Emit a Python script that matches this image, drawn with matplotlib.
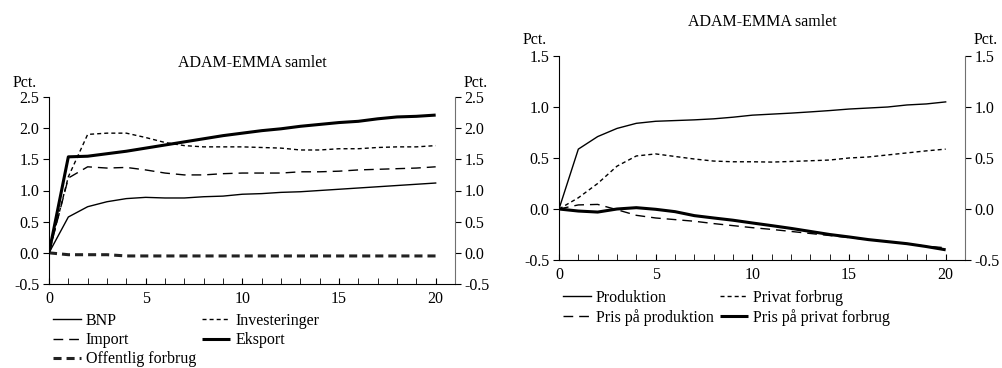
import numpy as np
import matplotlib
matplotlib.use("Agg")
import matplotlib.pyplot as plt
from matplotlib.ticker import MultipleLocator, FormatStrFormatter

plt.rcParams['font.family'] = ['Liberation Serif', 'DejaVu Serif']
plt.rcParams['font.size'] = 11.5
plt.rcParams['axes.unicode_minus'] = False
plt.rcParams['lines.scale_dashes'] = False

years = np.arange(0, 21)

# left panel
bnp = [0.0, 0.575, 0.74, 0.82, 0.87, 0.89, 0.88, 0.88, 0.90, 0.91, 0.94,
       0.95, 0.97, 0.98, 1.00, 1.02, 1.04, 1.06, 1.08, 1.10, 1.12]
investeringer = [0.0, 1.22, 1.90, 1.92, 1.92, 1.85, 1.77, 1.72, 1.70, 1.70, 1.70,
                 1.69, 1.68, 1.65, 1.65, 1.67, 1.67, 1.69, 1.70, 1.70, 1.72]
importen = [0.0, 1.20, 1.38, 1.36, 1.37, 1.33, 1.28, 1.25, 1.25, 1.27, 1.28,
            1.28, 1.28, 1.30, 1.30, 1.31, 1.33, 1.34, 1.35, 1.36, 1.38]
eksport = [0.0, 1.54, 1.55, 1.59, 1.63, 1.68, 1.73, 1.78, 1.83, 1.88, 1.92,
           1.96, 1.99, 2.03, 2.06, 2.09, 2.11, 2.15, 2.18, 2.19, 2.21]
offentlig = [0.0, -0.03, -0.03, -0.03, -0.05, -0.05, -0.05, -0.05, -0.05, -0.05, -0.05,
             -0.05, -0.05, -0.05, -0.05, -0.05, -0.05, -0.05, -0.05, -0.05, -0.05]

# right panel
produktion = [0.0, 0.587, 0.71, 0.79, 0.84, 0.86, 0.867, 0.874, 0.884, 0.90, 0.92,
              0.93, 0.94, 0.952, 0.965, 0.98, 0.99, 1.00, 1.02, 1.03, 1.05]
privat = [0.0, 0.11, 0.25, 0.42, 0.52, 0.54, 0.515, 0.49, 0.47, 0.463, 0.463,
          0.46, 0.466, 0.473, 0.48, 0.50, 0.51, 0.53, 0.55, 0.57, 0.587]
pris_prod = [0.0, 0.04, 0.045, -0.007, -0.062, -0.088, -0.104, -0.12, -0.143, -0.163, -0.183,
             -0.20, -0.22, -0.24, -0.26, -0.28, -0.30, -0.32, -0.34, -0.365, -0.38]
pris_privat = [0.0, -0.02, -0.03, 0.0, 0.013, -0.003, -0.026, -0.065, -0.088, -0.11, -0.137,
               -0.163, -0.19, -0.22, -0.25, -0.274, -0.30, -0.32, -0.34, -0.368, -0.40]

thin = dict(color='black', lw=1.0)
short = dict(color='black', lw=1.0, dashes=(2.9, 2.2))
longd = dict(color='black', lw=1.0, dashes=(7.0, 4.3))
thick = dict(color='black', lw=2.2, solid_capstyle='butt')
thickd = dict(color='#222222', lw=2.2, dashes=(5.8, 3.6))

fig = plt.figure(figsize=(10.02, 3.68), dpi=100)
ax1 = fig.add_axes([49/1002, 1-284/368, 406/1002, 187/368])
ax2 = fig.add_axes([559/1002, 1-260/368, 406/1002, 204/368])


def style(ax, ylo, yhi):
    ax.set_xlim(0, 21)
    ax.set_ylim(ylo, yhi)
    ax.spines['top'].set_visible(False)
    ax.spines['right'].set_color('#707070')
    ax.xaxis.set_minor_locator(MultipleLocator(1))
    ax.set_xticks([0, 5, 10, 15, 20])
    ax.yaxis.set_major_locator(MultipleLocator(0.5))
    ax.yaxis.set_major_formatter(FormatStrFormatter('%.1f'))
    ax.tick_params(axis='x', which='both', direction='in', length=4, pad=5)
    ax.tick_params(axis='y', direction='out', length=4, pad=3,
                   right=True, labelright=True)
    ax.text(-0.059, 1.076, 'Pct.', transform=ax.transAxes, ha='center', va='center')
    ax.text(1.05, 1.076, 'Pct.', transform=ax.transAxes, ha='center', va='center')


style(ax1, -0.5, 2.5)
l1, = ax1.plot(years, bnp, **thin)
l2, = ax1.plot(years, investeringer, **short)
l3, = ax1.plot(years, importen, **longd)
l4, = ax1.plot(years, eksport, **thick)
l5, = ax1.plot(years, offentlig, **thickd)
ax1.text(0.5, 1.183, 'ADAM-EMMA samlet', transform=ax1.transAxes, ha='center', va='center')
fig.legend([l1, l3, l5, l2, l4], ['BNP', 'Import', 'Offentlig forbrug', 'Investeringer', 'Eksport'],
           ncol=2, loc='upper left', bbox_to_anchor=(53/1002, 1-313/368), frameon=False,
           borderpad=0, borderaxespad=0, handlelength=1.75, handletextpad=0.3,
           columnspacing=0.4, labelspacing=0.2)

style(ax2, -0.5, 1.5)
r1, = ax2.plot(years, produktion, **thin)
r2, = ax2.plot(years, privat, **short)
r3, = ax2.plot(years, pris_prod, **longd)
r4, = ax2.plot(years, pris_privat, **thick)
ax2.text(0.5, 1.168, 'ADAM-EMMA samlet', transform=ax2.transAxes, ha='center', va='center')
fig.legend([r1, r3, r2, r4], ['Produktion', 'Pris på produktion', 'Privat forbrug', 'Pris på privat forbrug'],
           ncol=2, loc='upper left', bbox_to_anchor=(563/1002, 1-290/368), frameon=False,
           borderpad=0, borderaxespad=0, handlelength=1.75, handletextpad=0.3,
           columnspacing=0.4, labelspacing=0.2)

fig.savefig('out.png', dpi=100)
